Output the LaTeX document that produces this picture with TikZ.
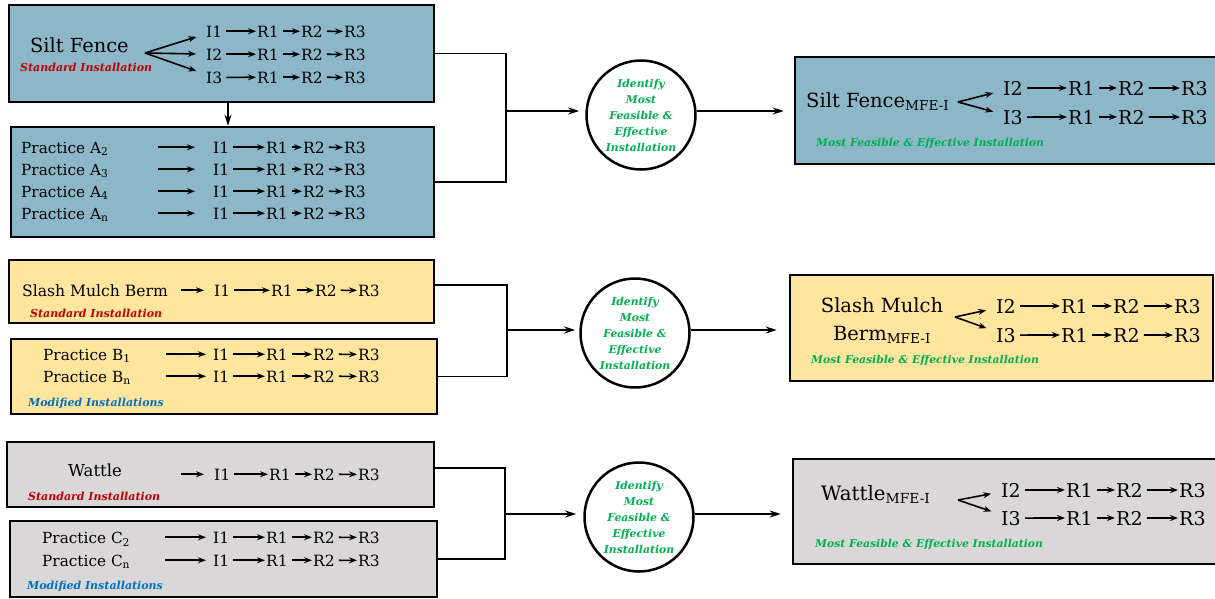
\documentclass[tikz,border=0pt]{standalone}
\usepackage{fontspec}
\setmainfont{DejaVu Serif}
\usepackage{xcolor}
\usetikzlibrary{calc,positioning,arrows,arrows.meta,shapes}

\definecolor{fenceblue}{HTML}{8CB7C8}
\definecolor{mulchyellow}{HTML}{FFE59E}
\definecolor{wattlegrey}{HTML}{D9D7D8}
\definecolor{stdred}{HTML}{C00000}
\definecolor{modblue}{HTML}{0070C0}
\definecolor{idgreen}{HTML}{00B050}

\newcommand{\tagfont}{\fontsize{11}{12}\selectfont\bfseries\itshape}
\newcommand{\prfont}{\fontsize{15.3}{16}\selectfont}

\tikzstyle{box}      = [draw=black, line width=2.5pt, inner sep=0pt]
\tikzstyle{lab}      = [anchor=base west, inner sep=0pt]
\tikzstyle{tag}      = [anchor=base west, inner sep=0pt, font=\tagfont]
\tikzstyle{tokL}     = [inner sep=1pt, font=\fontsize{15.5}{16}\selectfont]
\tikzstyle{tokR}     = [inner sep=1pt, font=\fontsize{19}{20}\selectfont]
\tikzstyle{chainarr} = [line width=1.6pt, shorten <=3pt, -{Stealth[length=8pt,width=6pt]}]
\tikzstyle{fork}     = [line width=1.6pt, shorten >=9pt, -{Stealth[length=8pt,width=6pt]}]
\tikzstyle{link}     = [line width=1.6pt]
\tikzstyle{flow}     = [line width=1.8pt, -{Stealth[length=11pt,width=7pt]}]
\tikzstyle{decide}   = [circle, draw=black, line width=2.5pt, fill=white, minimum size=109pt, inner sep=0pt, align=center, text=idgreen, font=\fontsize{10.8}{16}\selectfont\bfseries\itshape]

% one row  I -> R1 -> R2 -> R3
\newcommand{\tokrow}[8]{%
  \node[#2, anchor=base west] (#1i) at (#5,#3) {#4};
  \node[#2, anchor=base west] (#1a) at (#6,#3) {R1};
  \node[#2, anchor=base west] (#1b) at (#7,#3) {R2};
  \node[#2, anchor=base west] (#1c) at (#8,#3) {R3};
  \draw[chainarr] (#1i) -- (#1a);
  \draw[chainarr] (#1a) -- (#1b);
  \draw[chainarr] (#1b) -- (#1c);
}

\begin{document}
\begin{tikzpicture}[x=1pt,y=-1pt]
    \useasboundingbox (0,0) rectangle (1215,598);

    % silt fence
    \node[box, fill=fenceblue, minimum width=425pt, minimum height=97pt] (sfstd) at (221.5,53.5) {};
    \node[lab, font=\fontsize{19.4}{20}\selectfont] (sflab) at (30,52) {Silt Fence};
    \node[tag, text=stdred] (sftag) at (20,71) {Standard Installation};
    \coordinate (sffork) at (145,53);
    \tokrow{sfa}{tokL}{37}{I1}{205}{256}{300}{343}
    \tokrow{sfb}{tokL}{60}{I2}{205}{256}{300}{343}
    \tokrow{sfc}{tokL}{83}{I3}{205}{256}{300}{343}
    \draw[fork] (sffork) -- (sfai);
    \draw[fork] (sffork) -- (sfbi);
    \draw[fork] (sffork) -- (sfci);

    \node[box, fill=fenceblue, minimum width=423pt, minimum height=110pt] (sfmod) at (222.5,182) {};
    \foreach \sub/\yb [count=\k] in {2/153,3/175,4/197,n/219} {
        \node[lab, font=\prfont] (pa\k) at (21,\yb) {Practice A\textsubscript{\sub}};
        \tokrow{pa\k}{tokL}{\yb}{I1}{212}{265}{302}{343}
        \coordinate (pa\k in) at (pa\k i.west -| 155,0);
        \draw[chainarr, shorten >=17pt] (pa\k in) -- (pa\k i);
    }
    \draw[flow] ([xshift=6.5pt]sfstd.south) -- ([xshift=5.5pt]sfmod.north);

    % slash mulch berm
    \node[box, fill=mulchyellow, minimum width=425pt, minimum height=63pt] (smstd) at (221.5,291.5) {};
    \node[lab, font=\fontsize{15.6}{16}\selectfont] (smlab) at (22,296) {Slash Mulch Berm};
    \node[tag, text=stdred] (smtag) at (30,317) {Standard Installation};
    \tokrow{smr}{tokL}{296}{I1}{213}{270}{314}{357}
    \coordinate (smin) at (smri.west -| 178,0);
    \draw[chainarr, shorten >=9pt] (smin) -- (smri);

    \node[box, fill=mulchyellow, minimum width=426pt, minimum height=75pt] (smmod) at (224,376.5) {};
    \foreach \sub/\yb [count=\k] in {1/360,n/382} {
        \node[lab, font=\prfont] (pb\k) at (43,\yb) {Practice B\textsubscript{\sub}};
        \tokrow{pb\k}{tokL}{\yb}{I1}{212}{265}{312}{357}
        \coordinate (pb\k in) at (pb\k i.west -| 163,0);
        \draw[chainarr, shorten >=6pt] (pb\k in) -- (pb\k i);
    }
    \node[tag, text=modblue] (smmodtag) at (28,406) {Modified Installations};

    % wattle
    \node[box, fill=wattlegrey, minimum width=427pt, minimum height=65pt] (wtstd) at (220.5,474.5) {};
    \node[lab, font=\fontsize{16.5}{17}\selectfont] (wtlab) at (68,476) {Wattle};
    \node[tag, text=stdred] (wttag) at (28,500) {Standard Installation};
    \tokrow{wtr}{tokL}{480}{I1}{213}{268}{312}{357}
    \coordinate (wtin) at (wtri.west -| 178,0);
    \draw[chainarr, shorten >=9pt] (wtin) -- (wtri);

    \node[box, fill=wattlegrey, minimum width=427pt, minimum height=76pt] (wtmod) at (223.5,559) {};
    \foreach \sub/\yb [count=\k] in {2/543,n/566} {
        \node[lab, font=\prfont] (pc\k) at (42,\yb) {Practice C\textsubscript{\sub}};
        \tokrow{pc\k}{tokL}{\yb}{I1}{212}{265}{312}{357}
        \coordinate (pc\k in) at (pc\k i.west -| 162,0);
        \draw[chainarr, shorten >=6pt] (pc\k in) -- (pc\k i);
    }
    \node[tag, text=modblue] (wtmodtag) at (27,589) {Modified Installations};

    % decisions
    \node[decide] (idA) at (641,115) {Identify\\Most\\Feasible \&\\Effective\\Installation};
    \node[decide] (idB) at (635,333) {Identify\\Most\\Feasible \&\\Effective\\Installation};
    \node[decide] (idC) at (639,517) {Identify\\Most\\Feasible \&\\Effective\\Installation};

    % most feasible boxes
    \node[box, fill=fenceblue, minimum width=421pt, minimum height=107pt] (sfmfe) at (1005.5,110.5) {};
    \node[lab, font=\fontsize{19.5}{20}\selectfont] (sfmfelab) at (806,107) {Silt Fence\textsubscript{MFE-I}};
    \coordinate (sfmfork) at (958,102);
    \tokrow{sfm2}{tokR}{95}{I2}{1002}{1067}{1117}{1180}
    \tokrow{sfm3}{tokR}{124}{I3}{1002}{1067}{1117}{1180}
    \draw[fork] (sfmfork) -- (sfm2i);
    \draw[fork] (sfmfork) -- (sfm3i);
    \node[tag, text=idgreen, font=\fontsize{10.8}{12}\selectfont\bfseries\itshape] (sfmfetag) at (816,146) {Most Feasible \& Effective Installation};

    \node[box, fill=mulchyellow, minimum width=423pt, minimum height=106pt] (smmfe) at (1001.5,328) {};
    \node[inner sep=0pt, anchor=base, align=center, font=\fontsize{19.5}{28}\selectfont] (smmfelab) at (882,340) {Slash Mulch\\Berm\textsubscript{MFE-I}};
    \coordinate (smmfork) at (955,317);
    \tokrow{smm2}{tokR}{313}{I2}{995}{1060}{1112}{1173}
    \tokrow{smm3}{tokR}{342}{I3}{995}{1060}{1112}{1173}
    \draw[fork] (smmfork) -- (smm2i);
    \draw[fork] (smmfork) -- (smm3i);
    \node[tag, text=idgreen, font=\fontsize{10.8}{12}\selectfont\bfseries\itshape] (smmfetag) at (811,363) {Most Feasible \& Effective Installation};

    \node[box, fill=wattlegrey, minimum width=423pt, minimum height=105pt] (wtmfe) at (1004.5,511.5) {};
    \node[lab, font=\fontsize{19.8}{20}\selectfont] (wtmfelab) at (821,500) {Wattle\textsubscript{MFE-I}};
    \coordinate (wtmfork) at (958,500);
    \tokrow{wtm2}{tokR}{497}{I2}{1000}{1065}{1115}{1178}
    \tokrow{wtm3}{tokR}{525}{I3}{1000}{1065}{1115}{1178}
    \draw[fork] (wtmfork) -- (wtm2i);
    \draw[fork] (wtmfork) -- (wtm3i);
    \node[tag, text=idgreen, font=\fontsize{10.8}{12}\selectfont\bfseries\itshape] (wtmfetag) at (815,547) {Most Feasible \& Effective Installation};

    % connectors
    \coordinate (ajoin) at (506,111);
    \coordinate (bjoin) at (507,330);
    \coordinate (cjoin) at (505,514);
    \draw[link] (sfstd.east) -| (ajoin) |- (sfmod.east);
    \draw[link] ([yshift=6.5pt]smstd.east) -| (bjoin) |- (smmod.east);
    \draw[link] ([yshift=6.5pt]wtstd.east) -| (cjoin) |- (wtmod.east);
    \draw[flow, shorten >=6pt] (ajoin) -- (ajoin -| idA.west);
    \draw[flow, shorten >=4pt] (bjoin) -- (bjoin -| idB.west);
    \draw[flow, shorten >=7pt] (cjoin) -- (cjoin -| idC.west);
    \draw[flow, shorten >=10pt] (ajoin -| idA.east) -- (ajoin -| sfmfe.west);
    \draw[flow, shorten >=12pt] (bjoin -| idB.east) -- (bjoin -| smmfe.west);
    \draw[flow, shorten >=11pt] (cjoin -| idC.east) -- (cjoin -| wtmfe.west);
\end{tikzpicture}
\end{document}
